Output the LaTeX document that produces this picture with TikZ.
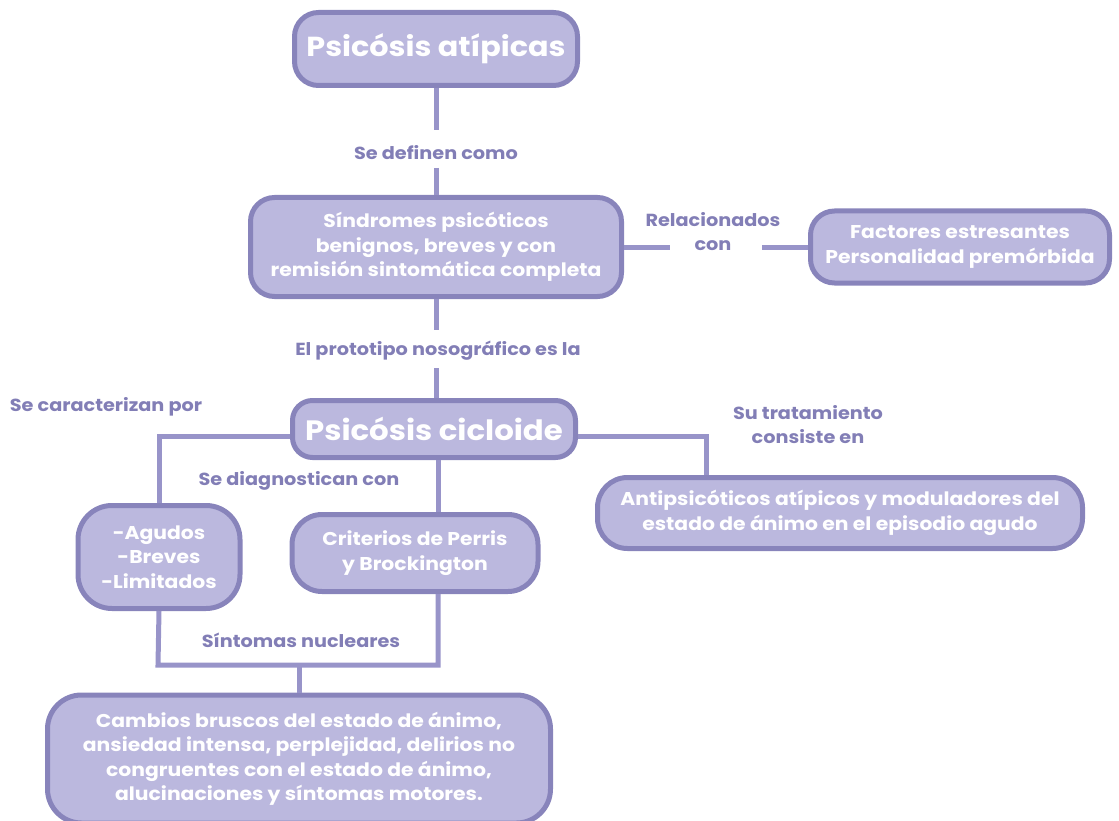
\documentclass[tikz,border=0pt]{standalone}
\usepackage{fontspec}
\setmainfont{Poppins}[FakeStretch=1.1]
\definecolor{boxfill}{HTML}{BBB8DE}
\definecolor{boxline}{HTML}{8884BB}
\definecolor{conn}{HTML}{9894C9}
\definecolor{lab}{HTML}{827EB6}
\begin{document}
\begin{tikzpicture}[x=1pt,y=-1pt,
 box/.style={draw=boxline, line width=5pt, fill=boxfill, rounded corners=24pt, text=white,
   font=\bfseries\fontsize{18.5}{24.5}\selectfont, align=center, inner sep=0pt},
 title/.style={box, font=\bfseries\fontsize{27.5}{34}\selectfont},
 lbl/.style={text=lab, font=\bfseries\fontsize{17.5}{24}\selectfont, align=center, inner sep=0pt},
 link/.style={draw=conn, line width=5pt}]
\useasboundingbox (0,0) rectangle (1119,821);

\coordinate (d1) at (436,130);
\coordinate (d2) at (436,168);
\coordinate (p1) at (436,330);
\coordinate (p2) at (436,368);
\coordinate (r1) at (670,247);
\coordinate (r2) at (762,247);
\coordinate (tr) at (706,475);
\coordinate (jl) at (158,665);
\coordinate (jr) at (438,665);
\coordinate (jm) at (299,665);

% nodes
\node[title, minimum width=283, minimum height=73] (a) at (436,49) {Psicósis atípicas};
\node[box, minimum width=371, minimum height=99] (s) at (436,247) {Síndromes psicóticos\\benignos, breves y con\\remisión sintomática completa};
\node[box, minimum width=299, minimum height=72] (f) at (960,247) {Factores estresantes\\Personalidad premórbida};
\node[title, minimum width=283, minimum height=57, rounded corners=20pt, font=\bfseries\fontsize{28}{34}\selectfont] (c) at (434,429) {Psicósis cicloide};
\node[box, minimum width=162, minimum height=103, rounded corners=34pt] (ag) at (159,557) {-Agudos\\-Breves\\-Limitados};
\node[box, minimum width=246, minimum height=77, rounded corners=30pt] (cr) at (415,553) {Criterios de Perris\\y Brockington};
\node[box, minimum width=485, minimum height=71, rounded corners=30pt] (an) at (840,513) {Antipsicóticos atípicos y moduladores del\\estado de ánimo en el episodio agudo};
\node[box, minimum width=503, minimum height=128, rounded corners=34pt] (cb) at (299,759) {Cambios bruscos del estado de ánimo,\\ansiedad intensa, perplejidad, delirios no\\congruentes con el estado de ánimo,\\alucinaciones y síntomas motores.};

% labels
\node[lbl] (l1) at (436,153) {Se definen como};
\node[lbl] (l2) at (713,232) {Relacionados\\con};
\node[lbl] (l3) at (438,351) {El prototipo nosográfico es la};
\node[lbl] (l4) at (106,407) {Se caracterizan por};
\node[lbl] (l5) at (299,481) {Se diagnostican con};
\node[lbl] (l6) at (808,425) {Su tratamiento\\consiste en};
\node[lbl] (l7) at (301,640) {Síntomas nucleares};

% connectors
\draw[link] (a.south) -- (d1);
\draw[link] (d2) -- (s.north);
\draw[link] (s.south) -- (p1);
\draw[link] (p2) -- (c.north -| p2);
\draw[link] (s.east) -- (r1);
\draw[link] (r2) -- (f.west);
\draw[link] ([yshift=-7pt]c.west) -| (ag.north);
\draw[link] ([yshift=-7pt]c.east) -| (tr);
\draw[link] (c.south -| jr) -- (cr.north -| jr);
\draw[link] (ag.south) -- (jl) -- (jr) -- (cr.south -| jr);
\draw[link] (jm) -- (cb.north -| jm);
\end{tikzpicture}
\end{document}
